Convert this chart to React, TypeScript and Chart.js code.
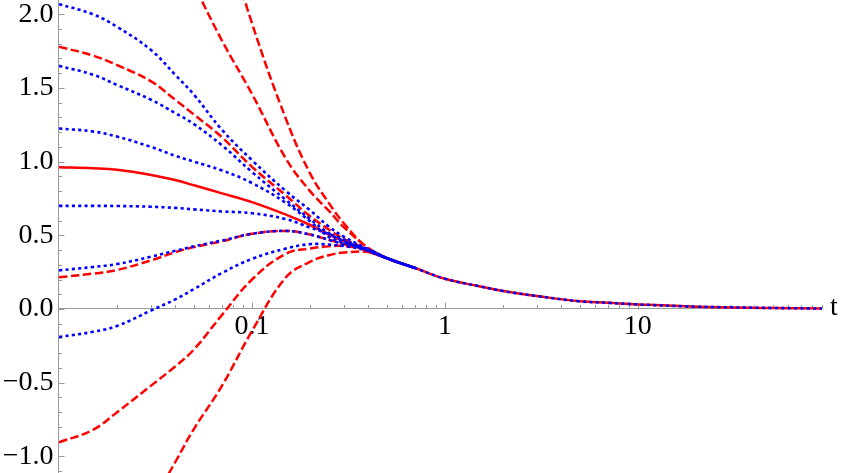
import React, { useEffect, useRef } from "react";
import { Chart, registerables } from "chart.js";

Chart.register(...registerables);

// ---- data ----
const tValues = [0.01, 0.015, 0.02, 0.03, 0.04, 0.05, 0.07, 0.1, 0.15, 0.2, 0.25, 0.3, 0.4,
  0.5, 0.7, 1, 1.5, 2, 3, 5, 7, 10, 20, 50, 90];

// common tail (t = 0.5 ... 90), where all curves coincide
const tailValues = [0.345, 0.278, 0.205, 0.155, 0.122, 0.088, 0.052, 0.042, 0.031, 0.016, 0.007, 0.003];

// red solid (exact)
const redSolid = [0.962, 0.955, 0.945, 0.91, 0.875, 0.84, 0.785, 0.725, 0.64, 0.57, 0.505, 0.46, 0.39];

// red dashed approximations
const redDashed1 = [1.78, 1.72, 1.655, 1.545, 1.42, 1.32, 1.165, 0.965, 0.77, 0.63, 0.54, 0.475, 0.405];
const redDashed2 = [0.215, 0.24, 0.265, 0.33, 0.385, 0.42, 0.46, 0.51, 0.53, 0.505, 0.47, 0.44, 0.405];
const redDashed3 = [-0.905, -0.82, -0.7, -0.52, -0.39, -0.275, -0.04, 0.2, 0.375, 0.41, 0.425, 0.427, 0.4];
const redDashed4 = [null, null, null, -1.33, -1.04, -0.815, -0.52, -0.15, 0.215, 0.32, 0.365, 0.383, 0.387];
const redDashed5 = [null, null, null, null, 2.45, 2.2, 1.82, 1.46, 1.02, 0.8, 0.667, 0.554, 0.415];
const redDashed6 = [null, null, null, null, null, null, 2.62, 1.94, 1.29, 0.92, 0.72, 0.58, 0.41];

// blue dotted approximations
const blueDotted1 = [2.069, 2.0, 1.915, 1.757, 1.59, 1.455, 1.215, 1.01, 0.8, 0.67, 0.56, 0.49, 0.405];
const blueDotted2 = [1.65, 1.59, 1.52, 1.42, 1.33, 1.255, 1.11, 0.93, 0.74, 0.61, 0.515, 0.46, 0.4];
const blueDotted3 = [1.225, 1.205, 1.17, 1.1, 1.04, 1.0, 0.94, 0.855, 0.72, 0.595, 0.49, 0.45, 0.398];
const blueDotted4 = [0.7, 0.7, 0.699, 0.694, 0.686, 0.676, 0.662, 0.65, 0.61, 0.552, 0.51, 0.47, 0.395];
const blueDotted5 = [0.262, 0.285, 0.305, 0.355, 0.395, 0.425, 0.465, 0.51, 0.53, 0.505, 0.47, 0.44, 0.405];
const blueDotted6 = [-0.19, -0.155, -0.115, -0.01, 0.065, 0.135, 0.245, 0.34, 0.41, 0.44, 0.437, 0.427, 0.395];

// axis ticks
const xMajorTicks = [0.1, 1, 10];
const xMajorLabels = ["0.1", "1", "10"];
const xMinorTicks = [0.02, 0.03, 0.04, 0.05, 0.06, 0.07, 0.08, 0.09,
  0.2, 0.3, 0.4, 0.5, 0.6, 0.7, 0.8, 0.9,
  2, 3, 4, 5, 6, 7, 8, 9,
  20, 30, 40, 50, 60, 70, 80, 90];
const yMajorTicks = [-1, -0.5, 0, 0.5, 1, 1.5, 2];
const yMajorLabels = ["\u22121.0", "\u22120.5", "0.0", "0.5", "1.0", "1.5", "2.0"];
const yMinorTicks = [-1.1, -0.9, -0.8, -0.7, -0.6, -0.4, -0.3, -0.2, -0.1,
  0.1, 0.2, 0.3, 0.4, 0.6, 0.7, 0.8, 0.9, 1.1, 1.2, 1.3, 1.4, 1.6, 1.7, 1.8, 1.9];
const xAxisLabel = "t";

const X_MIN = 0.01;
const X_MAX = 90;
const Y_MIN = -1.113;
const Y_MAX = 2.097;

const RED = "#ff0000";
const BLUE = "#0000ff";
const AXIS = "#999999";
const FONT = '28px "Liberation Serif", "DejaVu Serif", "Noto Serif", Tinos, Times, serif';

// full: follow the whole common tail; otherwise stop once merged (t = 0.7)
function toPoints(head: (number | null)[], full: boolean) {
  const n = full ? tValues.length : head.length + 2;
  return tValues.slice(0, n).map((t, i) => ({
    x: t,
    y: i < head.length ? head[i] : tailValues[i - head.length],
  }));
}

const axesPlugin = {
  id: "mmaAxes",
  beforeDatasetsDraw(chart: any) {
    const { ctx, chartArea, scales } = chart;
    const xs = scales.x;
    const ys = scales.y;
    const y0 = Math.floor(ys.getPixelForValue(0)) + 0.5;
    const xl = Math.round(chartArea.left) - 0.5;
    ctx.save();
    ctx.strokeStyle = AXIS;
    ctx.lineWidth = 1;
    ctx.beginPath();
    ctx.moveTo(xl, chartArea.top);
    ctx.lineTo(xl, chartArea.bottom);
    ctx.moveTo(chartArea.left, y0);
    ctx.lineTo(chartArea.right, y0);
    for (const v of xMinorTicks) {
      const px = Math.round(xs.getPixelForValue(v)) + 0.5;
      ctx.moveTo(px, y0);
      ctx.lineTo(px, y0 - 3.5);
    }
    for (const v of xMajorTicks) {
      const px = Math.round(xs.getPixelForValue(v)) + 0.5;
      ctx.moveTo(px, y0);
      ctx.lineTo(px, y0 - 6);
    }
    for (const v of yMinorTicks) {
      const py = Math.round(ys.getPixelForValue(v)) + 0.5;
      ctx.moveTo(xl, py);
      ctx.lineTo(xl + 3.5, py);
    }
    for (const v of yMajorTicks) {
      const py = Math.round(ys.getPixelForValue(v)) + 0.5;
      ctx.moveTo(xl, py);
      ctx.lineTo(xl + 6, py);
    }
    ctx.stroke();

    ctx.fillStyle = "#000000";
    ctx.font = FONT;
    ctx.textBaseline = "alphabetic";
    ctx.textAlign = "center";
    xMajorTicks.forEach((v, i) => {
      ctx.fillText(xMajorLabels[i], xs.getPixelForValue(v), y0 + 25);
    });
    ctx.textAlign = "right";
    yMajorTicks.forEach((v, i) => {
      ctx.fillText(yMajorLabels[i], chartArea.left - 5.5, ys.getPixelForValue(v) + 7.5);
    });
    ctx.textAlign = "left";
    ctx.fillText(xAxisLabel, chartArea.right + 8, y0 + 6);
    ctx.restore();
  },
};

function line(label: string, head: (number | null)[], color: string, dash: number[], width: number, full: boolean) {
  return {
    label,
    data: toPoints(head, full),
    borderColor: color,
    backgroundColor: color,
    borderWidth: width,
    borderDash: dash,
    borderCapStyle: "butt",
    pointRadius: 0,
    pointHoverRadius: 0,
    fill: false,
    tension: 0.4,
    spanGaps: false,
  };
}

export default function App() {
  const canvasRef = useRef<HTMLCanvasElement | null>(null);

  useEffect(() => {
    document.body.style.margin = "0";
    const canvas = canvasRef.current;
    if (!canvas) return;
    const blueDash = [3.2, 3.2];
    const redDash = [8.5, 3.5];
    const chart = new Chart(canvas, {
      type: "line",
      data: {
        datasets: [
          // blue first => drawn on top
          line("blue1", blueDotted1, BLUE, blueDash, 2.6, false),
          line("blue2", blueDotted2, BLUE, blueDash, 2.6, false),
          line("blue3", blueDotted3, BLUE, blueDash, 2.6, false),
          line("blue4", blueDotted4, BLUE, blueDash, 2.6, true),
          line("blue5", blueDotted5, BLUE, blueDash, 2.6, false),
          line("blue6", blueDotted6, BLUE, blueDash, 2.6, false),
          line("red1", redDashed1, RED, redDash, 2.5, false),
          line("red2", redDashed2, RED, redDash, 2.5, false),
          line("red3", redDashed3, RED, redDash, 2.5, false),
          line("red4", redDashed4, RED, redDash, 2.5, false),
          line("red5", redDashed5, RED, redDash, 2.5, false),
          line("red6", redDashed6, RED, redDash, 2.5, false),
          line("exact", redSolid, RED, [], 2.5, true),
        ] as any,
      },
      options: {
        animation: false,
        responsive: false,
        maintainAspectRatio: false,
        events: [],
        layout: { padding: { left: 59, right: 21, top: 0, bottom: 0 } },
        plugins: {
          legend: { display: false },
          tooltip: { enabled: false },
        },
        scales: {
          x: { type: "logarithmic", min: X_MIN, max: X_MAX, display: false },
          y: { type: "linear", min: Y_MIN, max: Y_MAX, display: false },
        },
      },
      plugins: [axesPlugin],
    });
    let alive = true;
    if ((document as any).fonts && (document as any).fonts.load) {
      (document as any).fonts.load(FONT, "0.1").then(() => {
        if (alive) chart.draw();
      }).catch(() => {});
    }
    return () => {
      alive = false;
      chart.destroy();
    };
  }, []);

  return (
    <div style={{ width: 843, height: 473, background: "#ffffff" }}>
      <canvas ref={canvasRef} width={843} height={473} style={{ display: "block" }} />
    </div>
  );
}
